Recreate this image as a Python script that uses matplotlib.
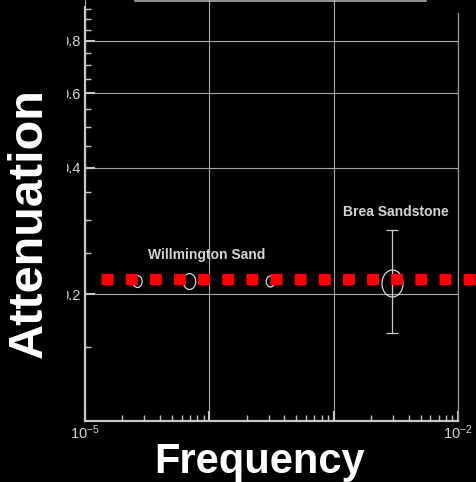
import numpy as np
import matplotlib
matplotlib.use('Agg')
import matplotlib.pyplot as plt
from matplotlib.path import Path
from matplotlib.patches import Rectangle
from matplotlib.lines import Line2D
from matplotlib.ticker import FixedLocator, NullFormatter

# ── data ──────────────────────────────────────────────
freq      = [2.6e-5, 6.85e-5, 3.1e-4, 2.95e-3]
atten     = [0.215, 0.215, 0.215, 0.213]
marker_pt = [8.6, 11.5, 7.9, 19.4]       # ellipse heights (pt)

brea_err_lo = [0.051]
brea_err_hi = [0.071]

ref_freq  = [1.35e-5, 1.45e-2]
ref_atten = [0.217, 0.217]

y_major = [0.2, 0.4, 0.6, 0.8]
y_major_labels = ['0.2', '0.4', '0.6', '0.8']
y_minor = [0.15, 0.25, 0.3, 0.35, 0.45, 0.5, 0.55, 0.65, 0.7, 0.75, 0.85, 0.9, 0.95]
x_major = [1e-5, 1e-4, 1e-3, 1e-2]
x_major_labels = [r'$10^{-5}$', '', '', r'$10^{-2}$']

annotations = [('Willmington Sand', 9.6e-5, 0.248),
               ('Brea Sandstone', 3.17e-3, 0.314)]

W, H = 476, 482
GRID_C  = '#a8a8a8'
SPINE_C = '#c8c8c8'
TEXT_C  = '#d4d4d4'

plt.rcParams['font.family'] = ['Liberation Sans', 'DejaVu Sans']
plt.rcParams['mathtext.fontset'] = 'custom'
plt.rcParams['mathtext.rm'] = 'Liberation Sans'
plt.rcParams['mathtext.default'] = 'regular'

fig = plt.figure(figsize=(W / 100, H / 100), dpi=100)
fig.patch.set_facecolor('black')
ax = fig.add_axes([85 / W, 61 / H, (458 - 85) / W, 421 / H])
ax.set_facecolor('black')

ax.set_xscale('log')
ax.set_yscale('log')
ax.set_xlim(1e-5, 1e-2)
ax.set_ylim(0.1, 1.0)

# ticks
ax.yaxis.set_major_locator(FixedLocator(y_major))
ax.yaxis.set_minor_locator(FixedLocator(y_minor))
ax.set_yticklabels(y_major_labels)
ax.yaxis.set_minor_formatter(NullFormatter())
ax.xaxis.set_major_locator(FixedLocator(x_major))
ax.set_xticklabels(x_major_labels)
ax.xaxis.set_minor_locator(FixedLocator(
    [m * 10.0 ** e for e in (-5, -4, -3) for m in range(2, 10)]))
ax.xaxis.set_minor_formatter(NullFormatter())

ax.tick_params(which='both', direction='in', colors=SPINE_C,
               labelcolor=TEXT_C, top=False, right=False)
ax.tick_params(which='major', length=7, width=1.5, labelsize=10.5, pad=3)
ax.tick_params(which='minor', length=4.5, width=1.0)
ax.tick_params(axis='x', which='major', pad=2)

ax.grid(True, which='major', color=GRID_C, lw=0.8)

ax.spines['top'].set_visible(False)
ax.spines['left'].set_color(SPINE_C)
ax.spines['left'].set_linewidth(1.6)
ax.spines['left'].set_bounds(0.1, 0.96)
ax.spines['bottom'].set_color(SPINE_C)
ax.spines['bottom'].set_linewidth(1.6)
ax.spines['right'].set_color('#9a9a9a')
ax.spines['right'].set_linewidth(0.9)
ax.spines['right'].set_bounds(0.1, 0.932)

# ellipse marker (taller than wide)
circ = Path.unit_circle()
ell = Path(circ.vertices * np.array([0.78, 1.0]), circ.codes)

for f, a, ms in zip(freq, atten, marker_pt):
    ax.plot([f], [a], linestyle='none', marker=ell, markersize=ms,
            markerfacecolor='none', markeredgecolor='#d8d8d8',
            markeredgewidth=0.9, zorder=3)

ax.errorbar([freq[-1]], [atten[-1]], yerr=[brea_err_lo, brea_err_hi],
            fmt='none', ecolor='#cfcfcf', elinewidth=0.9, capsize=4.3,
            capthick=0.9, zorder=3)

# red dotted reference line
ax.plot(ref_freq, ref_atten, color='#ff0000', lw=7.9,
        linestyle=(0, (1.1, 1.1)), dash_capstyle='butt',
        solid_capstyle='butt', clip_on=False, zorder=4)

for txt, x, y in annotations:
    ax.text(x, y, txt, ha='center', va='center', color=TEXT_C,
            fontsize=10, fontweight='bold',
            family=['Liberation Sans Narrow', 'Liberation Sans'], zorder=5)

# black strip hiding the leading zero of the y tick labels
fig.patches.append(Rectangle((0, 0), 67 / W, 1, transform=fig.transFigure,
                             facecolor='black', edgecolor='none', zorder=5))

# partial white line at top edge
fig.lines.append(Line2D([135 / W, 426 / W], [1 - 0.6 / H, 1 - 0.6 / H],
                        transform=fig.transFigure, color='#bdbdbd', lw=1.1,
                        zorder=6))

fig.text(29 / W, 1 - 223 / H, 'Attenuation', rotation=90, ha='center',
         va='center', color='white', fontsize=35, fontweight='bold',
         family='Liberation Sans', zorder=7)
fig.text(260 / W, 1 - 462 / H, 'Frequency', ha='center', va='center',
         color='white', fontsize=30, fontweight='bold',
         family='Liberation Sans', zorder=7)

fig.savefig('out.png', dpi=100, facecolor='black')
